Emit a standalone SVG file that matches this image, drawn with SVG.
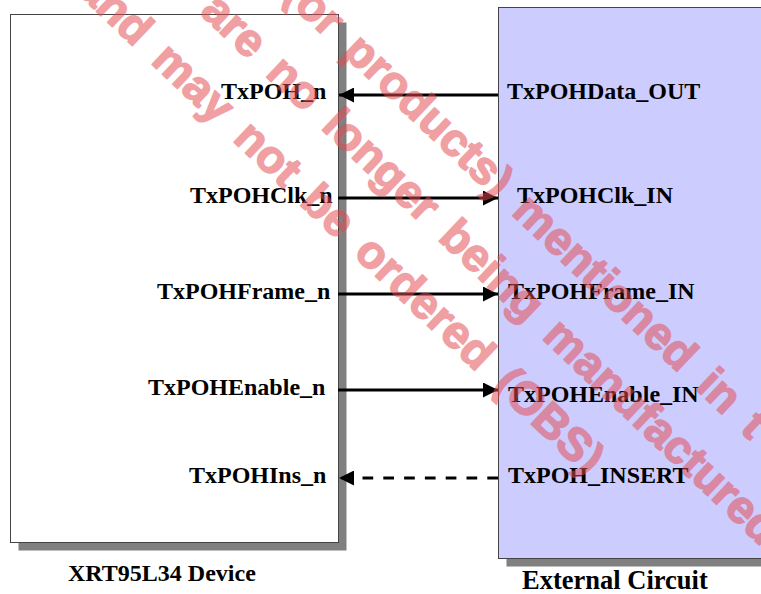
<svg xmlns="http://www.w3.org/2000/svg" width="761" height="594" viewBox="0 0 761 594">
  <defs>
    <style>
      .shadow { fill: #808080; }
      .box { stroke: #444444; stroke-width: 1; }
      .lbl { font-family: "Liberation Serif", "Times New Roman", serif; font-weight: bold; font-size: 24px; fill: #000000; }
      .title { font-family: "Liberation Serif", "Times New Roman", serif; font-weight: bold; fill: #000000; }
      .wire { stroke: #000000; stroke-width: 3; fill: none; }
      .dash { stroke-dasharray: 10.7 10.1; }
      .wm { font-family: "Liberation Sans", Arial, sans-serif; font-weight: bold; font-size: 46px; word-spacing: 8px; fill: #E34C50; stroke: #E34C50; stroke-width: 1.6; stroke-linejoin: round; }
    </style>
    <marker id="arrow" markerWidth="15" markerHeight="15" refX="15" refY="7.5" orient="auto" markerUnits="userSpaceOnUse">
      <path d="M0,0 L15,7.5 L0,15 Z" fill="#000000"/>
    </marker>
  </defs>

  <g id="device">
    <rect class="shadow" x="18.5" y="22.5" width="328" height="528"/>
    <rect class="box" x="10.5" y="14.5" width="328" height="528" fill="#FFFFFF"/>
    <text class="lbl" x="221" y="99">TxPOH_n</text>
    <text class="lbl" x="190" y="203">TxPOHClk_n</text>
    <text class="lbl" x="157" y="299">TxPOHFrame_n</text>
    <text class="lbl" x="148" y="395">TxPOHEnable_n</text>
    <text class="lbl" x="189" y="483">TxPOHIns_n</text>
    <text class="title" x="68" y="581" font-size="24">XRT95L34 Device</text>
  </g>

  <g id="external">
    <rect class="shadow" x="506.5" y="15.5" width="300" height="551"/>
    <rect class="box" x="498.5" y="7.5" width="300" height="551" fill="#CCCCFF"/>
    <text class="lbl" x="507" y="99">TxPOHData_OUT</text>
    <text class="lbl" x="517" y="203">TxPOHClk_IN</text>
    <text class="lbl" x="508" y="299">TxPOHFrame_IN</text>
    <text class="lbl" x="508" y="402">TxPOHEnable_IN</text>
    <text class="lbl" x="508" y="483">TxPOH_INSERT</text>
    <text class="title" x="522" y="589" font-size="26.5">External Circuit</text>
  </g>

  <g id="connectors">
    <path class="wire" d="M498,95 L339,95" marker-end="url(#arrow)"/>
    <path class="wire" d="M338,198 L498,198" marker-end="url(#arrow)"/>
    <path class="wire" d="M338,294 L498,294" marker-end="url(#arrow)"/>
    <path class="wire" d="M338,390 L498,390" marker-end="url(#arrow)"/>
    <path class="wire dash" d="M498,478 L339,478" marker-end="url(#arrow)"/>
  </g>

  <g id="watermark" opacity="0.53">
    <text class="wm" transform="translate(282,-3.3) rotate(43.5)">(or products) mentioned in t</text>
    <text class="wm" transform="translate(199,13.1) rotate(43.5)">are no longer being manufactured</text>
    <text class="wm" transform="translate(75.4,-8.4) rotate(43.5)">and may not be ordered (OBS)</text>
  </g>
</svg>
